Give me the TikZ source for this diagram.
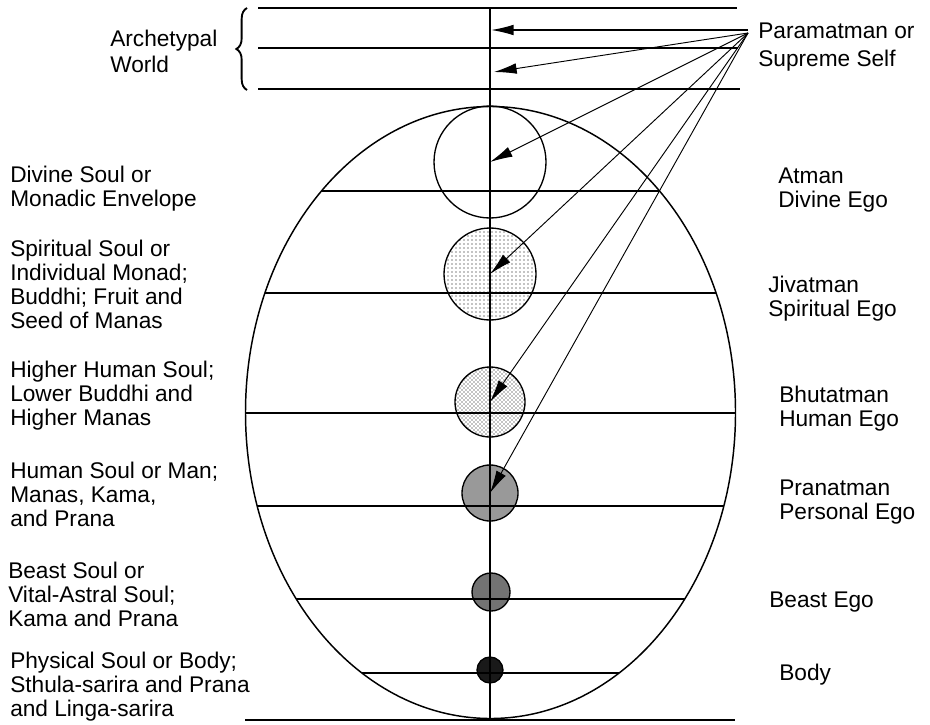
\documentclass[tikz,border=0pt]{standalone}
\usepackage{fontspec}
\setmainfont{Liberation Sans}
\usetikzlibrary{arrows.meta,decorations.pathreplacing,patterns}
\newcommand\blk[1]{\begin{tabular}[t]{@{}l@{}}#1\end{tabular}}
\begin{document}
\begin{tikzpicture}[x=0.75pt,y=-0.75pt,
  lbl/.style={anchor=base west,inner sep=0pt,font=\fontsize{17}{18.2}\selectfont},
  mainline/.style={line width=1.1pt},
  ray/.style={line width=0.7pt,-{Latex[length=17pt,width=8pt]}},
  soul/.style={circle,draw,line width=1pt,inner sep=0pt}]
\useasboundingbox (0,0) rectangle (930,724);

% souls
\node[soul,minimum size=84pt] (atman) at (490,162) {};
\node[soul,minimum size=69pt,pattern=dots] (jiva) at (490,274) {};
\node[soul,minimum size=52.5pt,pattern=crosshatch dots] (bhuta) at (490,402) {};
\node[soul,minimum size=42pt,fill=black!40] (prana) at (490,493) {};
\node[soul,minimum size=28.5pt,fill=black!55] (beast) at (491,592) {};
\node[soul,minimum size=19.5pt,fill=black!90] (body) at (490,670) {};

% ellipse and inner lines
\coordinate (E) at (490.5,412.5);
\draw[mainline] (E) ellipse [x radius=245, y radius=306];
\begin{scope}
  \clip (E) ellipse [x radius=245, y radius=306];
  \foreach \yy in {191,293,413,506,599,673}
    \draw[mainline] (200,\yy) -- (780,\yy);
\end{scope}
\coordinate (B1) at (245,720); \coordinate (B2) at (735,720);
\draw[mainline] (B1) -- (B2);

% vertical axis
\coordinate (V1) at (490,8); \coordinate (V2) at (490,720);
\draw[mainline] (V1) -- (V2);

% archetypal world lines
\coordinate (L1a) at (258,8);  \coordinate (L1b) at (737,8);
\coordinate (L2a) at (258,48); \coordinate (L2b) at (738,48);
\coordinate (L3a) at (258,89); \coordinate (L3b) at (740,89);
\draw[mainline] (L1a) -- (L1b);
\draw[mainline] (L2a) -- (L2b);
\draw[mainline] (L3a) -- (L3b);

% brace
\coordinate (Br1) at (247,90); \coordinate (Br2) at (247,8);
\draw[line width=1.4pt,decorate,decoration={brace,amplitude=8pt}] (Br1) -- (Br2);

% rays from Paramatman
\coordinate (P0) at (748,30);
\coordinate (P) at (748,33);
\coordinate (t1) at (491,30);
\coordinate (t2) at (494,72);
\draw[mainline,-{Latex[length=17pt,width=8pt]}] (P0) -- (t1);
\draw[ray] (P) -- (t2);
\draw[ray] (P) -- (atman.center);
\draw[ray] (P) -- (jiva.center);
\draw[ray] (P) -- (bhuta.center);
\draw[ray] (P) -- (prana.center);

% labels
\node[lbl,font=\fontsize{17}{19.5}\selectfont] (arch) at (110,46) {\blk{Archetypal\\World}};
\node[lbl,font=\fontsize{17}{20.3}\selectfont] (param) at (758,39) {\blk{Paramatman or\\Supreme Self}};

\node[lbl] (l1) at (10,182) {\blk{Divine Soul or\\Monadic Envelope}};
\node[lbl] (l2) at (10,256) {\blk{Spiritual Soul or\\Individual Monad;\\Buddhi; Fruit and\\Seed of Manas}};
\node[lbl] (l3) at (10,377) {\blk{Higher Human Soul;\\Lower Buddhi and\\Higher Manas}};
\node[lbl] (l4) at (10,478) {\blk{Human Soul or Man;\\Manas, Kama,\\and Prana}};
\node[lbl] (l5) at (8,578) {\blk{Beast Soul or\\Vital-Astral Soul;\\Kama and Prana}};
\node[lbl] (l6) at (10,668) {\blk{Physical Soul or Body;\\Sthula-sarira and Prana\\and Linga-sarira}};

\node[lbl] (r1) at (778,183) {\blk{Atman\\Divine Ego}};
\node[lbl] (r2) at (768,292) {\blk{Jivatman\\Spiritual Ego}};
\node[lbl] (r3) at (779,402) {\blk{Bhutatman\\Human Ego}};
\node[lbl] (r4) at (779,495) {\blk{Pranatman\\Personal Ego}};
\node[lbl] (r5) at (769,607) {Beast Ego};
\node[lbl] (r6) at (779,680) {Body};
\end{tikzpicture}
\end{document}
